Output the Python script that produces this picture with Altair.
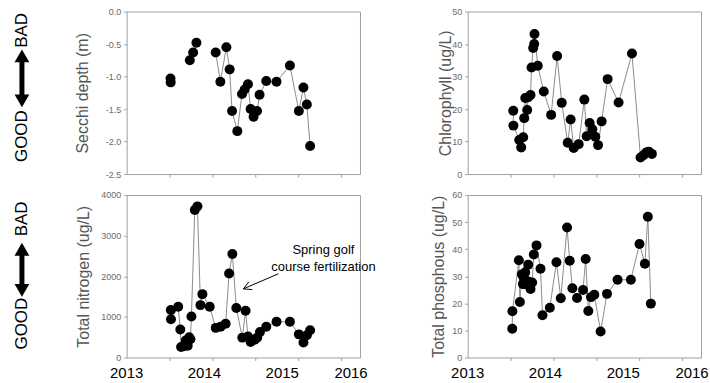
import math
import altair as alt
import pandas as pd

# ---------------- data (decimal year, measured value) ----------------
secchi_year = [2013.564, 2013.566, 2013.812, 2013.855, 2013.897, 2014.145, 2014.205, 2014.282,
               2014.324, 2014.355, 2014.423, 2014.483, 2014.517, 2014.560, 2014.594, 2014.632,
               2014.676, 2014.709, 2014.795, 2014.927, 2015.099, 2015.214, 2015.273, 2015.317,
               2015.359]
secchi_depth = [-1.03, -1.09, -0.75, -0.63, -0.48, -0.63, -1.08, -0.55, -0.89, -1.53, -1.84,
                -1.27, -1.20, -1.12, -1.50, -1.62, -1.53, -1.28, -1.07, -1.08, -0.83, -1.53,
                -1.17, -1.43, -2.07]
# connected runs of the Secchi series
secchi_run = [0, 0, 1, 1, 1] + [2] * 20

chl_year = [2013.586, 2013.588, 2013.663, 2013.688, 2013.714, 2013.727, 2013.740, 2013.765,
            2013.778, 2013.808, 2013.821, 2013.842, 2013.855, 2013.859, 2013.901, 2013.978,
            2014.073, 2014.150, 2014.209, 2014.286, 2014.324, 2014.363, 2014.427, 2014.500,
            2014.529, 2014.568, 2014.603, 2014.641, 2014.676, 2014.722, 2014.799, 2014.940,
            2015.112, 2015.222, 2015.260, 2015.295, 2015.329, 2015.368]
chl_value = [19.5, 14.9, 10.5, 8.2, 11.3, 17.2, 23.4, 19.7, 23.6, 24.3, 32.8, 38.8, 40.0, 43.1,
             33.3, 25.4, 18.2, 36.3, 21.9, 9.6, 16.8, 8.0, 9.2, 22.9, 11.6, 15.7, 13.8, 11.5,
             8.9, 16.2, 29.2, 22.0, 37.1, 5.1, 5.8, 6.6, 6.9, 6.2]

tn_year = [2013.568, 2013.570, 2013.663, 2013.690, 2013.700, 2013.735, 2013.760, 2013.785,
           2013.805, 2013.820, 2013.833, 2013.876, 2013.910, 2013.949, 2013.974, 2014.068,
           2014.145, 2014.209, 2014.273, 2014.317, 2014.359, 2014.410, 2014.487, 2014.529,
           2014.560, 2014.594, 2014.645, 2014.679, 2014.714, 2014.795, 2014.927, 2015.099,
           2015.214, 2015.273, 2015.317, 2015.359]
tn_value = [1170, 940, 1250, 690, 260, 280, 420, 290, 500, 450, 1010, 3630, 3720, 1290, 1560,
            1250, 730, 760, 830, 2070, 2550, 1220, 490, 1150, 520, 380, 440, 490, 630, 760,
            880, 880, 570, 370, 550, 670]

tp_year = [2013.573, 2013.575, 2013.658, 2013.671, 2013.697, 2013.710, 2013.722, 2013.740,
           2013.752, 2013.778, 2013.786, 2013.808, 2013.829, 2013.850, 2013.885, 2013.936,
           2013.962, 2014.056, 2014.141, 2014.197, 2014.278, 2014.312, 2014.346, 2014.406,
           2014.483, 2014.517, 2014.551, 2014.585, 2014.628, 2014.709, 2014.791, 2014.927,
           2015.098, 2015.209, 2015.278, 2015.316, 2015.355]
tp_value = [10.6, 17.1, 35.9, 20.5, 30.7, 27.1, 29.5, 31.5, 27.0, 34.3, 28.0, 25.3, 27.7, 38.0,
            41.4, 32.8, 15.6, 18.4, 35.2, 21.9, 48.0, 35.7, 25.6, 22.0, 24.9, 36.4, 17.2, 22.3,
            23.2, 9.6, 23.5, 28.7, 28.7, 41.9, 34.6, 52.0, 19.9]

year_labels = [2013, 2014, 2015, 2016]
x_tick_marks = [2013.551, 2014.102, 2014.653, 2015.204, 2015.755]

# annotation on the nitrogen panel (data units)
note_text = "Spring golf\ncourse fertilization"
note_pos = (2015.53, 2650)
arrow_tail = (2014.95, 2060)
arrow_head = (2014.50, 1690)

# ---------------- styling ----------------
W, H = 234, 163
X_DOMAIN = [2013, 2016]
FONT = "Liberation Sans"
FRAME = "#a0a0a0"
LINE = "#8c8c8c"
LABEL = "#6a6a6a"
TITLE = "#555555"


def frame_df(years, values, run=None):
    df = pd.DataFrame({"year": years, "value": values})
    df["seq"] = range(len(df))
    df["run"] = run if run is not None else 0
    return df


def panel(df, title, domain, step, fmt, title_pad, bottom_row, gb, extra=None):
    x_axis = alt.Axis(values=x_tick_marks, labels=False, title=None, domain=False, grid=False,
                      ticks=True, tickSize=3, tickColor=FRAME)
    ticks = []
    v = domain[0]
    while v <= domain[1] + 1e-9:
        ticks.append(round(v, 6))
        v += step
    y_axis = alt.Axis(values=ticks, title=title, domain=False, grid=False, tickSize=3,
                      tickColor=FRAME, labelColor=LABEL, labelFontSize=9, labelPadding=3,
                      labelExpr=f"replace(format(datum.value, '{fmt}'), '\u2212', '-')",
                      titleFontSize=16, titleColor=TITLE, titleFontWeight="normal",
                      titlePadding=title_pad)
    x_scale = alt.Scale(domain=X_DOMAIN, nice=False, zero=False)
    y_scale = alt.Scale(domain=domain, nice=False, zero=False)

    def X(field="year"):
        return alt.X(f"{field}:Q", scale=x_scale, axis=x_axis)

    def Y(field="value"):
        return alt.Y(f"{field}:Q", scale=y_scale, axis=y_axis)

    base = alt.Chart(df)
    line = base.mark_line(color=LINE, strokeWidth=1).encode(
        x=X(), y=Y(), detail="run:N", order="seq:Q")
    pts = base.mark_circle(color="black", size=100, opacity=1).encode(x=X(), y=Y())
    layers = [line, pts]

    if bottom_row:
        lab = pd.DataFrame({"year": year_labels, "lab": [str(y) for y in year_labels]})
        year_text = dict(font=FONT, fontSize=15, color="black", baseline="middle")
        # the last year label is pulled in so it stays inside the page
        layers.append(
            alt.Chart(lab[lab.year < 2016]).mark_text(**year_text)
            .encode(x=X(), y=alt.value(H + 16), text="lab:N"))
        layers.append(
            alt.Chart(lab[lab.year == 2016]).mark_text(dx=-9, **year_text)
            .encode(x=X(), y=alt.value(H + 16), text="lab:N"))

    if gb is not None:
        bad_y, arrow_top, arrow_bot, good_y = gb
        one = alt.Chart(pd.DataFrame({"k": [0]}))
        gx = alt.value(-105)
        txt = dict(font=FONT, fontSize=17, color="black", angle=270,
                   align="center", baseline="middle")
        layers.append(one.mark_text(**txt).encode(x=gx, y=alt.value(bad_y), text=alt.value("BAD")))
        layers.append(one.mark_text(**txt).encode(x=gx, y=alt.value(good_y), text=alt.value("GOOD")))
        head_h = 12.8
        layers.append(one.mark_rule(color="black", strokeWidth=5).encode(
            x=gx, y=alt.value(arrow_top + head_h / 2), y2=alt.value(arrow_bot - head_h / 2)))
        layers.append(one.mark_point(shape="triangle-up", filled=True, color="black", size=220,
                                     opacity=1).encode(x=gx, y=alt.value(arrow_top + head_h / 2)))
        layers.append(one.mark_point(shape="triangle-down", filled=True, color="black", size=220,
                                     opacity=1).encode(x=gx, y=alt.value(arrow_bot - head_h / 2)))

    if extra is not None:
        layers.extend(extra(X, Y))

    return alt.layer(*layers).properties(width=W, height=H)


def nitrogen_note(X, Y):
    # pixel scale factors of the nitrogen panel, used to size the arrow head
    px_x = W / (X_DOMAIN[1] - X_DOMAIN[0])
    px_y = H / 4000.0
    hx, hy = arrow_head
    tx, ty = arrow_tail
    dx, dy = (tx - hx) * px_x, -(ty - hy) * px_y
    n = math.hypot(dx, dy)
    ux, uy = dx / n, dy / n
    segs = [(tx, ty, hx, hy)]
    for a in (math.radians(28), -math.radians(28)):
        bx = ux * math.cos(a) - uy * math.sin(a)
        by = ux * math.sin(a) + uy * math.cos(a)
        segs.append((hx, hy, hx + 9 * bx / px_x, hy - 9 * by / px_y))
    arrow = pd.DataFrame(segs, columns=["year", "value", "year2", "value2"])
    rule = alt.Chart(arrow).mark_rule(color="black", strokeWidth=1).encode(
        x=X(), y=Y(), x2="year2:Q", y2="value2:Q")
    note = alt.Chart(pd.DataFrame({"year": [note_pos[0]], "value": [note_pos[1]],
                                   "t": [note_text]})).mark_text(
        font=FONT, fontSize=13, color="black", align="center", baseline="middle",
        lineBreak="\n", lineHeight=17).encode(x=X(), y=Y(), text="t:N")
    return [rule, note]


secchi = panel(frame_df(secchi_year, secchi_depth, secchi_run), "Secchi depth (m)",
               [-2.5, 0.0], 0.5, ".1f", 15, False, (19, 38, 96, 125))
chl = panel(frame_df(chl_year, chl_value), "Chlorophyll (ug/L)",
            [0, 50], 10, "d", -2, False, None)
tn = panel(frame_df(tn_year, tn_value), "Total nitrogen (ug/L)",
           [0, 4000], 1000, "d", 9, True, (24, 48, 102, 129), extra=nitrogen_note)
tp = panel(frame_df(tp_year, tp_value), "Total phosphous (ug/L)",
           [0, 60], 10, "d", 5, True, None)

chart = alt.concat(
    secchi, chl, tn, tp, columns=2, spacing={"row": 21, "column": 108}, bounds="flush"
).properties(
    padding={"left": 12, "top": 6, "right": 0, "bottom": 0}, background="white"
).configure_view(
    stroke=FRAME, strokeWidth=1
).configure_axis(
    labelFont=FONT, titleFont=FONT
).configure_text(font=FONT)

chart.save("out.html", embed_options={"renderer": "svg", "actions": False})
